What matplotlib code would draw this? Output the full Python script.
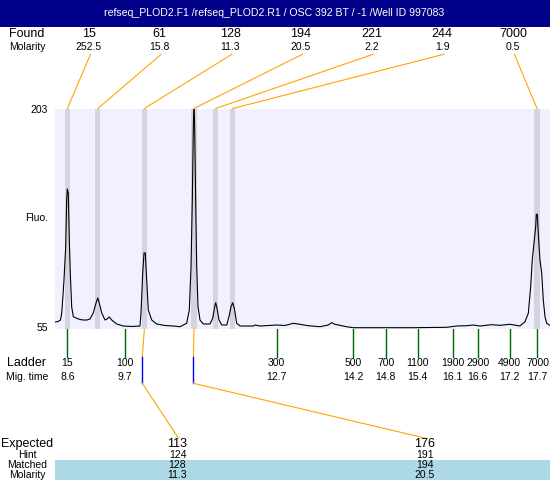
import matplotlib
matplotlib.use('Agg')
import matplotlib.pyplot as plt
from matplotlib.patches import Rectangle

plt.rcParams['font.family'] = ['Liberation Sans', 'DejaVu Sans']

title = 'refseq_PLOD2.F1 /refseq_PLOD2.R1 / OSC 392 BT / -1 /Well ID 997083'

# found peaks (size, molarity, migration time in s)
found_size = [15, 61, 128, 194, 221, 244, 7000]
found_molarity = [252.5, 15.8, 11.3, 20.5, 2.2, 1.9, 0.5]
found_time = [8.60, 9.19, 10.09, 11.05, 11.47, 11.80, 17.69]

# ladder
ladder_size = [15, 100, 300, 500, 700, 1100, 1900, 2900, 4900, 7000]
ladder_time = [8.60, 9.71, 12.65, 14.13, 14.76, 15.38, 16.06, 16.54, 17.16, 17.70]
ladder_mig = ['8.6', '9.7', '12.7', '14.2', '14.8', '15.4', '16.1', '16.6', '17.2', '17.7']

# expected / matched table
expected_size = [113, 176]
hint_size = [124, 191]
hint_time = [10.05, 11.04]
matched_size = [128, 194]
matched_molarity = [11.3, 20.5]
matched_time = [10.09, 11.05]

# electropherogram trace (time s, fluorescence)
trace_t = [8.360, 8.418, 8.466, 8.490, 8.515, 8.534, 8.567, 8.586, 8.598, 8.617,
           8.637, 8.656, 8.683, 8.714, 8.780, 8.844, 8.908, 8.979, 9.037, 9.101,
           9.154, 9.187, 9.217, 9.264, 9.328, 9.367, 9.411, 9.458, 9.554, 9.682,
           9.850, 10.005, 10.025, 10.058, 10.083, 10.108, 10.135, 10.166, 10.232, 10.329,
           10.489, 10.650, 10.780, 10.909, 10.960, 10.993, 11.018, 11.037, 11.051, 11.064,
           11.083, 11.103, 11.128, 11.167, 11.231, 11.360, 11.413, 11.451, 11.471, 11.496,
           11.535, 11.587, 11.684, 11.728, 11.767, 11.800, 11.831, 11.877, 11.941, 12.199,
           12.231, 12.328, 12.651, 12.812, 12.973, 13.102, 13.263, 13.490, 13.650, 13.716,
           13.780, 14.006, 14.134, 14.651, 15.296, 15.942, 16.136, 16.329, 16.457, 16.587,
           16.813, 16.974, 17.168, 17.361, 17.458, 17.522, 17.568, 17.599, 17.638, 17.665,
           17.677, 17.696, 17.715, 17.748, 17.781, 17.812, 17.845, 17.878, 17.928, 17.942]
trace_f = [59.70, 60.03, 61.04, 65.74, 77.82, 87.89, 110.04, 141.58, 148.97, 146.28,
           114.74, 92.59, 69.77, 63.26, 62.18, 61.38, 61.04, 61.04, 61.71, 65.74,
           72.45, 75.81, 72.45, 65.74, 61.04, 61.71, 63.05, 61.04, 58.36, 57.01,
           56.68, 57.01, 65.74, 92.59, 106.01, 106.01, 87.89, 67.75, 61.04, 58.36,
           57.35, 57.01, 56.54, 58.83, 67.75, 96.82, 141.58, 188.57, 210.0, 188.57,
           141.58, 96.82, 69.97, 61.04, 58.36, 58.36, 62.18, 69.97, 72.65, 68.89,
           61.04, 57.68, 57.68, 63.26, 69.97, 72.65, 68.89, 58.83, 57.01, 57.01,
           57.68, 57.01, 57.68, 57.35, 58.83, 58.15, 57.21, 56.54, 57.68, 59.23,
           58.15, 56.54, 55.87, 55.87, 55.87, 56.14, 57.01, 57.21, 57.68, 57.01,
           57.89, 57.48, 58.15, 57.01, 59.90, 65.54, 83.39, 101.31, 114.74, 123.66,
           131.99, 131.99, 119.44, 101.31, 92.59, 74.46, 63.26, 58.83, 57.68, 57.68]

y_min, y_max = 55, 203

fig = plt.figure(figsize=(5.5, 4.8), dpi=100)
W, H = 550, 480

# main trace panel
ax = fig.add_axes([55 / W, (H - 329) / H, 495 / W, 220.5 / H])
ax.set_facecolor('#F0F0FF')
ax.set_xlim(8.36, 17.942)
ax.set_ylim(y_min, y_max)
for s in ax.spines.values():
    s.set_visible(False)
ax.set_xticks([])
ax.set_yticks([])
for t in found_time:
    ax.axvspan(t - 0.05, t + 0.05, color='#D4D4E0', lw=0)
ax.plot(trace_t, trace_f, color='black', lw=0.8)

def px(t):
    return ax.transData.transform((t, y_min))[0]

# overlay in pixel coords for the text table and connectors
ov = fig.add_axes([0, 0, 1, 1], zorder=-1)
ov.set_xlim(0, W)
ov.set_ylim(H, 0)
ov.axis('off')

ov.add_patch(Rectangle((0, 0), W, 26.5, color='#000088', lw=0))
ov.text(274, 13.5, title, color='white', fontsize=7.6, ha='center', va='center')

# y labels
ov.text(48, 110, str(y_max), fontsize=7.5, ha='right', va='center')
ov.text(48, 328, str(y_min), fontsize=7.5, ha='right', va='center')
ov.text(48, 218, 'Fluo.', fontsize=7.5, ha='right', va='center')

# found row
ov.text(27, 34.3, 'Found', fontsize=9, ha='center', va='center')
ov.text(27, 46.7, 'Molarity', fontsize=7.5, ha='center', va='center')
for i, (sz, mol, t) in enumerate(zip(found_size, found_molarity, found_time)):
    sx = 90.5 + 70.65 * i
    ov.text(sx - 1.5, 34.3, str(sz), fontsize=9, ha='center', va='center')
    ov.text(sx - 1.5, 46.7, '%.1f' % mol, fontsize=7.5, ha='center', va='center')
    ov.plot([sx, px(t)], [54.3, 108.5], color='orange', lw=0.8)

# ladder row
ov.text(27, 363.3, 'Ladder', fontsize=9, ha='center', va='center')
ov.text(27, 377.3, 'Mig. time', fontsize=7.5, ha='center', va='center')
for sz, t, mig in zip(ladder_size, ladder_time, ladder_mig):
    x = px(t)
    ov.plot([x, x], [329, 356.5], color='#006400', lw=1)
    ov.text(x, 363.3, str(sz), fontsize=7.5, ha='center', va='center')
    ov.text(x, 377.3, mig, fontsize=7.5, ha='center', va='center')

# expected table
ov.add_patch(Rectangle((55, 460), 495, 20, color='#ADD8E6', lw=0))
ov.text(27, 444, 'Expected', fontsize=9, ha='center', va='center')
ov.text(27, 455.3, 'Hint', fontsize=7.5, ha='center', va='center')
ov.text(27, 465.5, 'Matched', fontsize=7.5, ha='center', va='center')
ov.text(27, 475.5, 'Molarity', fontsize=7.5, ha='center', va='center')
expected_x = [177.5, 425]
for ex, e, h, ht, m, mm, mt in zip(expected_x, expected_size, hint_size, hint_time,
                                   matched_size, matched_molarity, matched_time):
    hx = px(ht)
    ov.plot([px(mt), hx], [329, 356.7], color='orange', lw=0.8)
    ov.plot([hx, hx], [356.7, 383.3], color='blue', lw=1)
    ov.plot([hx, ex + 1], [383.3, 438.3], color='orange', lw=0.8)
    ov.text(ex, 444, str(e), fontsize=9, ha='center', va='center')
    ov.text(ex, 455.3, str(h), fontsize=7.5, ha='center', va='center')
    ov.text(ex, 465.5, str(m), fontsize=7.5, ha='center', va='center')
    ov.text(ex, 475.5, '%.1f' % mm, fontsize=7.5, ha='center', va='center')

fig.savefig('out.png', dpi=100)
